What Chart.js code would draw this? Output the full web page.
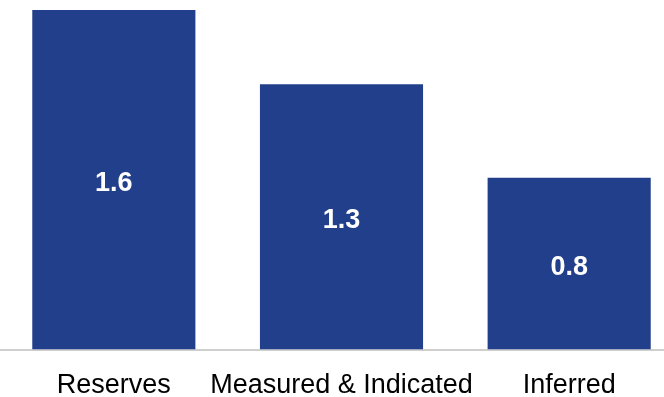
<!DOCTYPE html>
<html>
<head>
<meta charset="utf-8">
<script src="https://cdn.jsdelivr.net/npm/chart.js@4"></script>
<style>
  html, body { margin: 0; padding: 0; background: #fff; overflow: hidden; }
  #wrap { width: 664px; height: 397px; overflow: hidden; }
</style>
</head>
<body>
<div id="wrap"><canvas id="barChart" width="683" height="422"></canvas></div>
<script>
const categories = ['Reserves', 'Measured & Indicated', 'Inferred'];
const values = [1.6, 1.25, 0.81];
const barColor = '#223f8b';

const valueLabels = {
    id: 'valueLabels',
    afterDatasetsDraw: chart => {
        const { ctx } = chart;
        const meta = chart.getDatasetMeta(0);
        ctx.save();
        ctx.fillStyle = '#ffffff';
        ctx.font = 'bold 27px "Liberation Sans", Arial, sans-serif';
        ctx.textAlign = 'center';
        ctx.textBaseline = 'middle';
        meta.data.forEach((bar, i) => {
            const yMid = (bar.y + bar.base) / 2 + 4;
            ctx.fillText(values[i].toFixed(1), bar.x, yMid);
        });
        ctx.restore();
    }
};

new Chart(document.getElementById('barChart'), {
    type: 'bar',
    data: {
        labels: categories,
        datasets: [{
            data: values,
            backgroundColor: barColor,
            borderWidth: 0,
            barPercentage: 1,
            categoryPercentage: 0.7165
        }]
    },
    options: {
        responsive: false,
        animation: false,
        layout: { padding: { top: 10, left: 0, right: 0, bottom: 0 } },
        plugins: {
            legend: { display: false },
            tooltip: { enabled: false }
        },
        scales: {
            x: {
                grid: { display: false, drawTicks: false },
                border: { display: true, color: '#cfcfcf', width: 2 },
                ticks: {
                    color: '#000000',
                    padding: 20,
                    maxRotation: 0,
                    minRotation: 0,
                    autoSkip: false,
                    font: { family: '"Liberation Sans", Arial, sans-serif', size: 27 }
                }
            },
            y: {
                display: false,
                min: 0,
                max: 1.6
            }
        }
    },
    plugins: [valueLabels]
});
</script>
</body>
</html>
